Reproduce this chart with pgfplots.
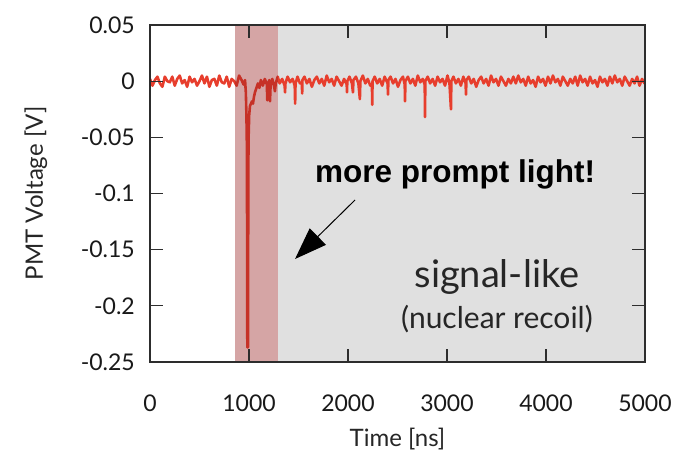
\documentclass[border=0pt]{standalone}
\usepackage{fontspec}
\setmainfont{Lato}
\newfontfamily\arialb{Liberation Sans}
\usepackage{pgfplots}
\usepackage{pgfplotstable}
\pgfplotsset{compat=1.18}
\usetikzlibrary{arrows.meta}
\definecolor{tracec}{RGB}{231,62,45}
\definecolor{bggrey}{RGB}{224,224,224}
\definecolor{bandc}{RGB}{150,30,30}
\definecolor{framec}{RGB}{45,45,45}

\pgfplotstableread{
t v
0 0.002
25 -0.004
50 0.001
75 0.004
100 -0.002
125 -0.005
150 0.004
175 0.000
200 -0.001
225 0.004
250 -0.004
275 0.002
300 0.005
325 -0.002
350 0.001
375 -0.005
400 0.004
425 -0.001
450 0.002
475 -0.004
500 0.000
525 0.005
550 -0.002
575 0.004
600 -0.005
625 0.001
650 0.002
675 -0.004
700 0.005
725 -0.001
750 -0.002
775 0.004
800 -0.005
825 0.002
850 0.000
875 -0.004
900 0.005
925 0.001
945 -0.003
960 0.001
968 -0.010
974 -0.030
979 -0.060
983 -0.237
990 -0.237
993 -0.080
996 -0.050
1002 -0.030
1010 -0.022
1020 -0.020
1030 -0.018
1040 -0.020
1050 -0.014
1060 -0.010
1075 -0.006
1090 -0.002
1105 -0.006
1120 0.001
1140 -0.004
1160 0.002
1180 -0.003
1185 -0.017
1190 -0.003
1205 0.001
1212 -0.018
1218 -0.004
1235 0.002
1250 -0.003
1262 -0.009
1270 -0.002
1290 0.004
1310 -0.002
1335 0.002
1360 -0.004
1364 -0.010
1368 -0.002
1390 0.004
1415 -0.001
1440 0.002
1462 -0.004
1466 -0.020
1470 -0.002
1490 0.004
1515 -0.002
1534 -0.002
1537 -0.011
1540 0.001
1560 0.004
1585 -0.002
1610 0.002
1635 -0.005
1660 0.001
1685 0.004
1710 -0.002
1735 0.002
1760 -0.004
1785 0.005
1810 -0.001
1835 0.002
1860 -0.004
1885 0.004
1910 0.000
1935 -0.004
1960 0.002
1987 -0.003
1990 -0.010
1993 0.000
2015 0.004
2040 -0.002
2050 -0.010
2055 0.001
2080 0.004
2105 -0.002
2120 -0.016
2125 0.000
2150 0.005
2175 -0.002
2200 0.002
2225 -0.004
2242 -0.004
2245 -0.021
2248 0.000
2270 0.004
2295 -0.002
2320 0.002
2345 -0.004
2370 0.004
2400 -0.002
2404 -0.012
2408 0.001
2430 0.004
2455 -0.002
2480 0.002
2505 -0.005
2530 0.001
2555 0.004
2573 -0.003
2576 -0.018
2580 0.000
2605 0.004
2630 -0.002
2655 0.002
2680 -0.004
2705 0.005
2730 -0.001
2755 0.002
2775 -0.003
2778 -0.032
2781 0.000
2805 0.004
2830 -0.002
2855 0.002
2880 -0.004
2905 0.004
2930 -0.001
2955 0.002
2980 -0.004
3005 0.005
3025 -0.002
3040 -0.025
3044 0.000
3065 0.004
3090 -0.002
3115 0.002
3140 -0.004
3165 0.004
3188 -0.002
3192 -0.012
3196 0.001
3220 0.004
3245 -0.002
3270 0.002
3295 -0.005
3320 0.001
3345 0.004
3370 -0.002
3395 0.002
3420 -0.004
3445 0.005
3470 -0.001
3495 0.002
3520 -0.004
3545 0.004
3570 0.000
3595 -0.004
3620 0.002
3645 -0.002
3670 0.004
3695 -0.002
3720 0.005
3745 -0.001
3770 0.002
3795 -0.004
3820 0.004
3845 -0.002
3870 0.001
3895 -0.005
3920 0.004
3945 -0.001
3970 0.002
3995 -0.004
4020 0.004
4045 -0.002
4070 0.005
4095 -0.001
4120 0.002
4145 -0.004
4170 0.004
4195 0.000
4220 -0.004
4245 0.002
4270 -0.002
4295 0.004
4320 -0.004
4345 0.005
4370 -0.001
4395 0.002
4420 -0.004
4445 0.004
4470 -0.002
4495 0.001
4520 -0.005
4545 0.004
4570 -0.001
4595 0.002
4620 -0.004
4645 0.004
4670 -0.002
4695 0.005
4720 -0.001
4745 0.002
4770 -0.004
4795 0.004
4820 0.000
4845 -0.004
4870 0.002
4895 -0.002
4920 0.004
4945 -0.004
4970 0.002
4995 -0.002
5000 0.001
}\tracedata

\begin{document}
\begin{tikzpicture}
\path[use as bounding box] (0,0) rectangle (676bp,452bp);
\begin{axis}[
  at={(150bp,90bp)}, anchor=south west,
  scale only axis, width=495bp, height=337bp,
  xmin=0, xmax=5000, ymin=-0.25, ymax=0.05,
  xtick={0,1000,2000,3000,4000,5000},
  xticklabels={0,1000,2000,3000,4000,5000},
  ytick={-0.25,-0.2,-0.15,-0.1,-0.05,0,0.05},
  yticklabels={-0.25,-0.2,-0.15,-0.1,-0.05,0,0.05},
  axis on top,
  tick align=inside,
  major tick length=13bp,
  tick style={line width=1.2bp, draw=framec},
  axis line style={line width=1.4bp, draw=framec},
  ticklabel style={font=\fontsize{23bp}{27bp}\selectfont, text=black!90},
  xticklabel style={inner sep=0pt, yshift=-33bp},
  yticklabel style={inner sep=0pt, xshift=-15bp},
  xlabel={Time [ns]},
  ylabel={PMT Voltage [V]},
  label style={font=\fontsize{24bp}{28bp}\selectfont, text=black!85},
  xlabel style={at={(axis description cs:0.5,-0.2493)}, anchor=base},
  ylabel style={at={(axis description cs:-0.2162,0.5)}, anchor=base},
]
\addplot[fill=bggrey, draw=none] coordinates {(1290,-0.25) (5000,-0.25) (5000,0.05) (1290,0.05)} -- cycle;
\addplot[tracec, line width=2.6bp, line join=round] table[x=t,y=v]{\tracedata};
\addplot[fill=bandc, fill opacity=0.4, draw=none] coordinates {(860,-0.25) (1290,-0.25) (1290,0.05) (860,0.05)} -- cycle;
\node[anchor=base, font=\arialb\bfseries\fontsize{31.5bp}{36bp}\selectfont] at (axis cs:3081,-0.0906) {more prompt light!};
\draw[-{Triangle[length=32bp,width=23bp]}, line width=1bp] (axis cs:2071,-0.1058) -- (axis cs:1465,-0.1583);
\node[anchor=base, font=\fontsize{38bp}{44bp}\selectfont, text=black!85] at (axis cs:3505,-0.1833) {signal-like};
\node[anchor=base, font=\fontsize{30bp}{36bp}\selectfont, text=black!85] at (axis cs:3505,-0.2199) {(nuclear recoil)};
\end{axis}
\end{tikzpicture}
\end{document}
